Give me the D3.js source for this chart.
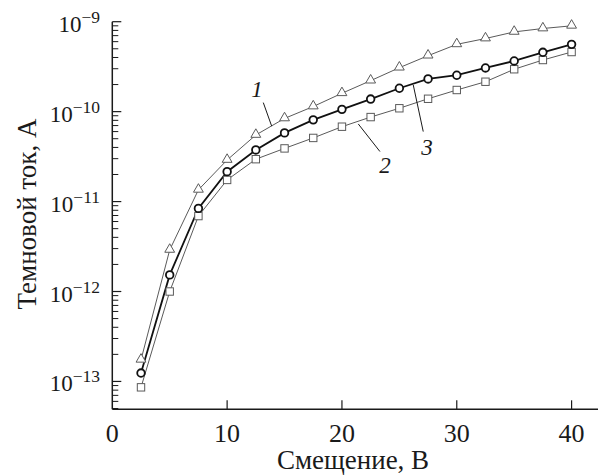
<!DOCTYPE html>
<html>
<head>
<meta charset="utf-8">
<script src="https://cdn.jsdelivr.net/npm/d3@7"></script>
<style>
  body { margin: 0; background: #fff; }
  text { font-family: "Liberation Serif", "DejaVu Serif", serif; fill: #1a1a1a; }
</style>
</head>
<body>
<div id="chart"></div>
<script>
// data: bias voltage (V) and dark current (A)
var bias = [2.5, 5, 7.5, 10, 12.5, 15, 17.5, 20, 22.5, 25, 27.5, 30, 32.5, 35, 37.5, 40];
var current1 = [1.74e-13, 2.9e-12, 1.35e-11, 2.9e-11, 5.5e-11, 8.4e-11, 1.14e-10, 1.6e-10,
                2.21e-10, 3.08e-10, 4.19e-10, 5.6e-10, 6.5e-10, 7.7e-10, 8.4e-10, 9.0e-10];
var current2 = [8.6e-14, 1.0e-12, 6.9e-12, 1.74e-11, 2.96e-11, 3.9e-11, 5.1e-11, 6.8e-11,
                8.7e-11, 1.09e-10, 1.39e-10, 1.74e-10, 2.15e-10, 2.96e-10, 3.75e-10, 4.6e-10];
var current3 = [1.24e-13, 1.53e-12, 8.4e-12, 2.15e-11, 3.75e-11, 5.8e-11, 8.1e-11, 1.06e-10,
                1.38e-10, 1.82e-10, 2.31e-10, 2.54e-10, 3.06e-10, 3.66e-10, 4.57e-10, 5.6e-10];
var xTicks = [0, 10, 20, 30, 40];
var yTickExps = [-9, -10, -11, -12, -13];
// curve labels: text position and leader line, in data units
var curveLabels = [
  {name: '1', text: [12.6, 1.46e-10], from: [13.15, 1.26e-10], to: [13.88, 6.9e-11]},
  {name: '3', text: [27.4, 3.3e-11], from: [26.21, 1.98e-10], to: [27.08, 6.0e-11]},
  {name: '2', text: [23.74, 2.08e-11], from: [21.42, 7.3e-11], to: [23.31, 3.6e-11]}
];

var width = 598;
var height = 476;
var plotLeft = 112.3, plotTop = 21.7, plotBottom = 409.3;
var gray = '#5a5a5a';

var svg = d3.select('#chart')
  .append('svg')
    .attr('width', width)
    .attr('height', height);

var x = d3.scaleLinear().domain([0, 42.3]).range([plotLeft, width]);
var y = d3.scaleLog().domain([4.9e-14, 1e-9]).range([plotBottom, plotTop]);

// y minor + major ticks (inward)
var yMinor = [];
for (var e = -14; e < -9; e++) {
  for (var m = 2; m <= 9; m++) {
    var v = m * Math.pow(10, e);
    if (v >= 4.9e-14 && v <= 1e-9) yMinor.push(v);
  }
}
svg.selectAll('.yminor')
  .data(yMinor)
  .enter()
  .append('line')
    .attr('x1', plotLeft).attr('x2', plotLeft + 6)
    .attr('y1', d => y(d)).attr('y2', d => y(d))
    .attr('stroke', '#1a1a1a').attr('stroke-width', 1);

svg.selectAll('.ymajor')
  .data(yTickExps)
  .enter()
  .append('line')
    .attr('x1', plotLeft).attr('x2', plotLeft + 9)
    .attr('y1', d => y(Math.pow(10, d))).attr('y2', d => y(Math.pow(10, d)))
    .attr('stroke', '#1a1a1a').attr('stroke-width', 1.2);

var yLab = svg.selectAll('.ylab')
  .data(yTickExps)
  .enter()
  .append('text')
    .attr('x', 100)
    .attr('y', d => y(Math.pow(10, d)) + 10)
    .attr('text-anchor', 'end')
    .style('font-size', '23px');
yLab.append('tspan').text('10');
yLab.append('tspan')
  .attr('dy', -9)
  .style('font-size', '17.5px')
  .text(d => '\u2212' + (-d));

// x ticks (inward)
svg.selectAll('.xtick')
  .data(xTicks.filter(d => d > 0))
  .enter()
  .append('line')
    .attr('x1', d => x(d)).attr('x2', d => x(d))
    .attr('y1', plotBottom).attr('y2', plotBottom - 9)
    .attr('stroke', '#1a1a1a').attr('stroke-width', 1.2);

svg.selectAll('.xlab')
  .data(xTicks)
  .enter()
  .append('text')
    .attr('x', d => x(d))
    .attr('y', 441.5)
    .attr('text-anchor', 'middle')
    .style('font-size', '26px')
    .text(d => d);

// axis lines
svg.append('line')
  .attr('x1', plotLeft).attr('x2', plotLeft).attr('y1', plotTop).attr('y2', plotBottom)
  .attr('stroke', '#1a1a1a').attr('stroke-width', 1.5);
svg.append('line')
  .attr('x1', plotLeft).attr('x2', width).attr('y1', plotBottom).attr('y2', plotBottom)
  .attr('stroke', '#1a1a1a').attr('stroke-width', 1.5);

// axis titles
svg.append('text')
  .attr('x', 353).attr('y', 469)
  .attr('text-anchor', 'middle')
  .style('font-size', '27px')
  .text('Смещение, В');
svg.append('text')
  .attr('transform', 'translate(36,214) rotate(-90)')
  .attr('text-anchor', 'middle')
  .style('font-size', '27px')
  .text('Темновой ток, А');

// curves
var line = d3.line()
  .x(d => x(d[0]))
  .y(d => y(d[1]));

function pairs(vals) {
  return bias.map((b, i) => [b, vals[i]]);
}

svg.append('path')
  .datum(pairs(current1))
  .attr('d', line)
  .attr('fill', 'none').attr('stroke', gray).attr('stroke-width', 1);
svg.append('path')
  .datum(pairs(current2))
  .attr('d', line)
  .attr('fill', 'none').attr('stroke', gray).attr('stroke-width', 1);
svg.append('path')
  .datum(pairs(current3))
  .attr('d', line)
  .attr('fill', 'none').attr('stroke', '#111').attr('stroke-width', 1.8);

// markers
svg.selectAll('.tri')
  .data(pairs(current1))
  .enter()
  .append('path')
    .attr('d', d3.symbol().type(d3.symbolTriangle).size(42))
    .attr('transform', d => 'translate(' + x(d[0]) + ',' + (y(d[1]) - 0.5) + ')')
    .attr('fill', '#fff').attr('stroke', gray).attr('stroke-width', 1);

svg.selectAll('.sq')
  .data(pairs(current2))
  .enter()
  .append('rect')
    .attr('x', d => x(d[0]) - 3.7)
    .attr('y', d => y(d[1]) - 3.7)
    .attr('width', 7.4).attr('height', 7.4)
    .attr('fill', '#fff').attr('stroke', gray).attr('stroke-width', 1);

svg.selectAll('.circ')
  .data(pairs(current3))
  .enter()
  .append('circle')
    .attr('cx', d => x(d[0]))
    .attr('cy', d => y(d[1]))
    .attr('r', 3.8)
    .attr('fill', '#fff').attr('stroke', '#111').attr('stroke-width', 1.8);

// curve labels with leader lines
svg.selectAll('.leader')
  .data(curveLabels)
  .enter()
  .append('line')
    .attr('x1', d => x(d.from[0])).attr('y1', d => y(d.from[1]))
    .attr('x2', d => x(d.to[0])).attr('y2', d => y(d.to[1]))
    .attr('stroke', '#1a1a1a').attr('stroke-width', 1);

svg.selectAll('.clab')
  .data(curveLabels)
  .enter()
  .append('text')
    .attr('x', d => x(d.text[0]))
    .attr('y', d => y(d.text[1]))
    .attr('text-anchor', 'middle')
    .style('font-size', '23px')
    .style('font-style', 'italic')
    .text(d => d.name);
</script>
</body>
</html>
